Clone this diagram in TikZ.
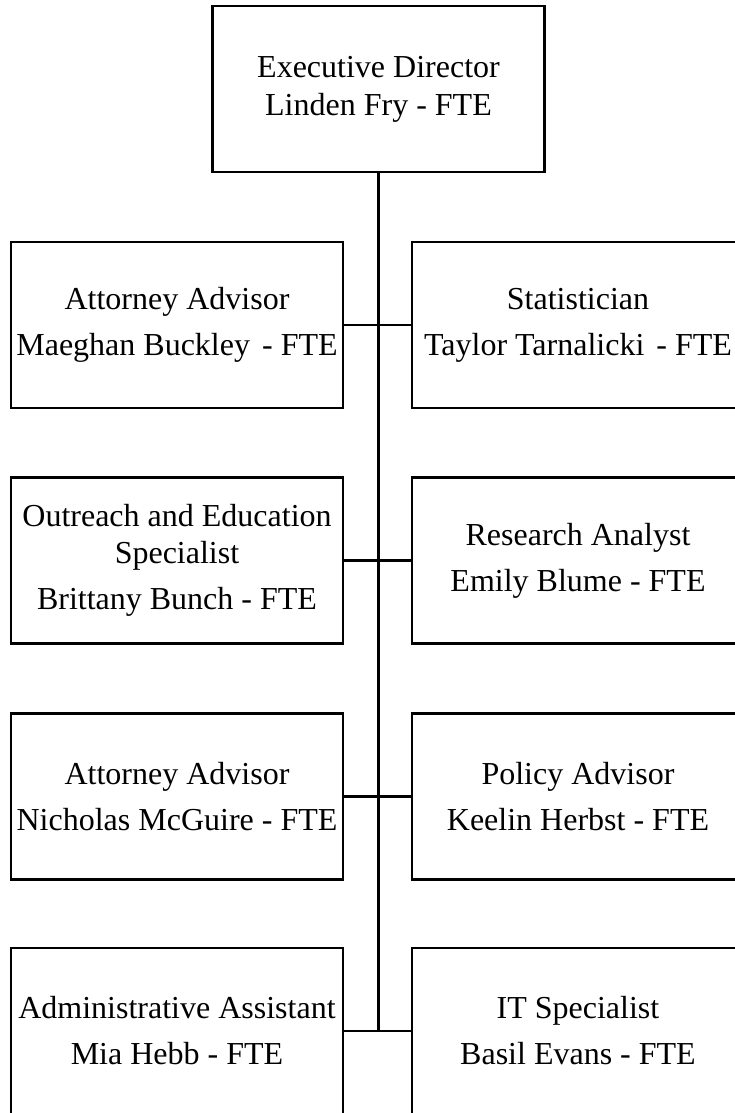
\documentclass[tikz,border=0pt]{standalone}
\usepackage{fontspec}
\setmainfont{Liberation Serif}
\begin{document}
\begin{tikzpicture}[x=1pt,y=-1pt,
  box/.style={draw, line width=2.3pt, minimum width=332pt, minimum height=166pt,
    inner sep=0pt, align=center, font=\fontsize{32}{37}\selectfont},
  conn/.style={line width=2.3pt}]
\useasboundingbox (0,0) rectangle (735,1113);
\node[box] (ed) at (378.5,89) {Executive Director\\[1pt]Linden Fry - FTE};
% left column
\node[box] (a1) at (177,325) {Attorney Advisor\\[9pt]Maeghan Buckley\hspace{4pt} - FTE};
\node[box] (a2) at (177,560.5) {Outreach and Education\\Specialist\\[9pt]Brittany Bunch - FTE};
\node[box] (a3) at (177,796.5) {Attorney Advisor\\[9pt]Nicholas McGuire - FTE};
\node[box] (a4) at (177,1031) {Administrative Assistant\\[9pt]Mia Hebb - FTE};
% right column
\node[box] (b1) at (578,325) {Statistician\\[9pt]Taylor Tarnalicki\hspace{4pt} - FTE};
\node[box] (b2) at (578,560.5) {Research Analyst\\[9pt]Emily Blume - FTE};
\node[box] (b3) at (578,796.5) {Policy Advisor\\[9pt]Keelin Herbst - FTE};
\node[box] (b4) at (578,1031) {IT Specialist\\[9pt]Basil Evans - FTE};
% connectors
\coordinate (j4) at (ed.south |- a4.east);
\draw[conn] (ed.south) -- (j4);
\draw[conn] (a1.east) -- (b1.west);
\draw[conn] (a2.east) -- (b2.west);
\draw[conn] (a3.east) -- (b3.west);
\draw[conn] (a4.east) -- (b4.west);
\end{tikzpicture}
\end{document}
